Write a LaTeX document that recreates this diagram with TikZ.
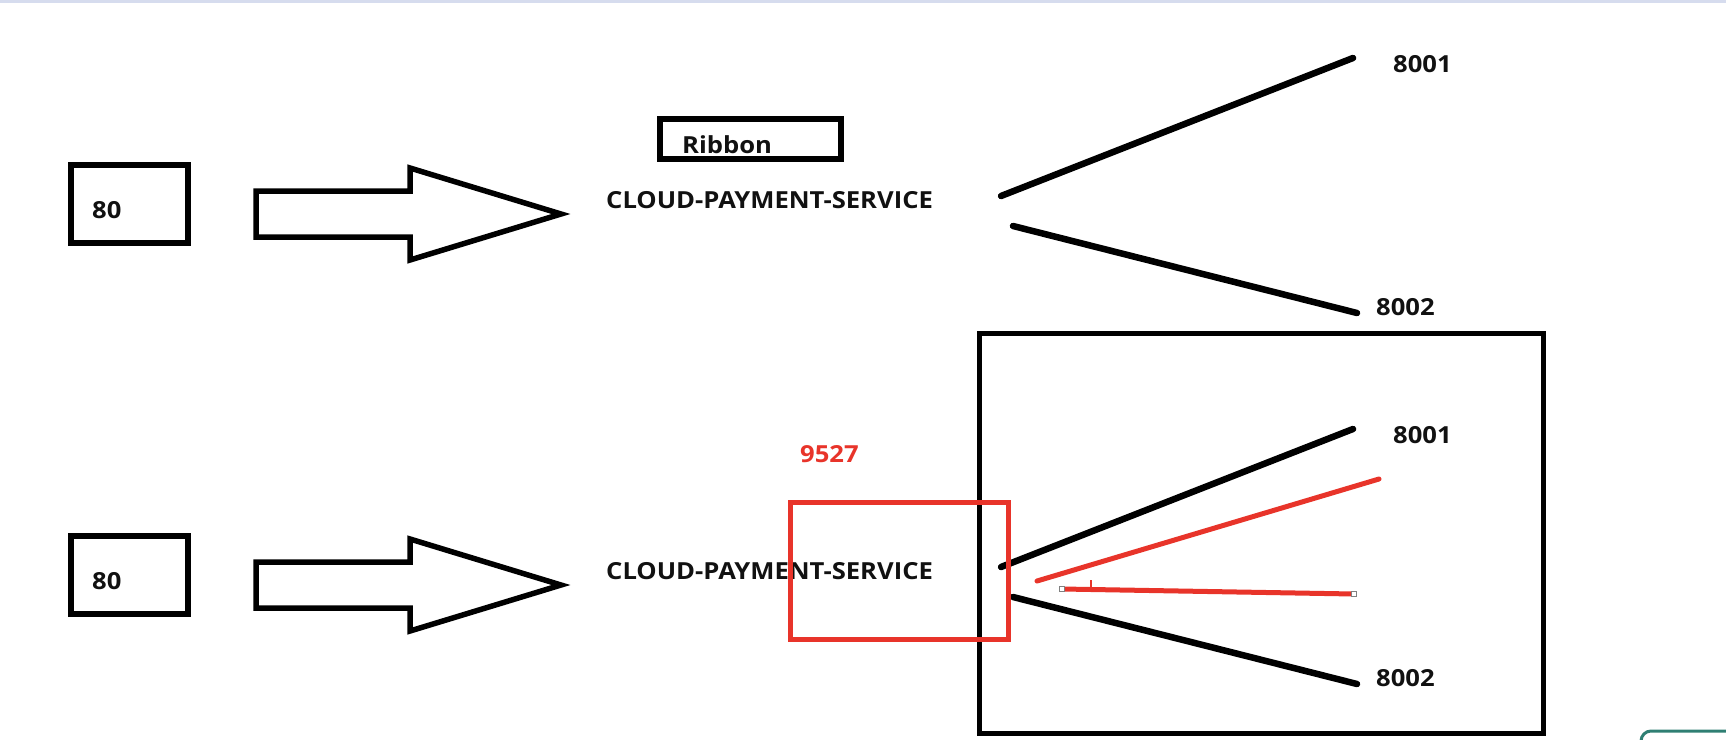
\documentclass[tikz,border=0pt]{standalone}
\usepackage{fontspec}
\setmainfont{Open Sans}
\usetikzlibrary{calc}
\definecolor{redline}{RGB}{232,52,42}
\definecolor{topline}{RGB}{214,220,238}
\definecolor{tealline}{RGB}{47,127,115}
\newcommand\widetxt[1]{\scalebox{1.09}[1]{#1}}
\tikzset{
  lbl/.style={font=\fontsize{23.5}{23.5}\selectfont\bfseries, inner sep=0pt, anchor=base west, text={rgb,255:red,17;green,17;blue,17}},
  redlbl/.style={lbl, text=redline},
  boxline/.style={draw=black, line width=6.5pt},
  thinbox/.style={draw=black, line width=5.5pt},
  arrowshape/.style={draw=black, line width=5.5pt, line join=miter, fill=white},
  link/.style={draw=black, line width=6.5pt, line cap=round},
  redlink/.style={draw=redline, line width=5pt, line cap=round},
  handle/.style={draw=gray, fill=white, line width=0.8pt},
}
\begin{document}
\begin{tikzpicture}[x=1pt, y=-1pt]
\useasboundingbox (0,0) rectangle (1726,739);
\clip (0,0) rectangle (1726,739);
\fill[topline] (0,0) rectangle (1726,2.5);

% ---- upper group ----
\coordinate (bA) at (71,165);
\coordinate (bB) at (188,243);
\draw[boxline] (bA) rectangle (bB);
\node[lbl] (p80) at (92,218) {\widetxt{80}};
\draw[arrowshape] (256,191) -- (410,191) -- (410,168) -- (561,214) -- (410,260) -- (410,237) -- (256,237) -- cycle;
\coordinate (rA) at (660,119);
\coordinate (rB) at (841,159);
\draw[thinbox] (rA) rectangle (rB);
\node[lbl] (ribbon) at (682,153) {\widetxt{Ribbon}};
\node[lbl] (svc) at (606,208) {\widetxt{CLOUD-PAYMENT-SERVICE}};
\coordinate (s1) at (1001,196);
\coordinate (e1) at (1353,58);
\coordinate (s2) at (1013,226);
\coordinate (e2) at (1357,313);
\draw[link] (s1) -- (e1);
\draw[link] (s2) -- (e2);
\node[lbl] (p8001) at (1393,72) {\widetxt{8001}};
\node[lbl] (p8002) at (1376,315) {\widetxt{8002}};

% ---- lower group ----
\begin{scope}[shift={(0,371)}, name prefix=b-]
\coordinate (bA) at (71,165);
\coordinate (bB) at (188,243);
\draw[boxline] (bA) rectangle (bB);
\node[lbl] (p80) at (92,218) {\widetxt{80}};
\draw[arrowshape] (256,191) -- (410,191) -- (410,168) -- (561,214) -- (410,260) -- (410,237) -- (256,237) -- cycle;
\node[lbl] (svc) at (606,208) {\widetxt{CLOUD-PAYMENT-SERVICE}};
\coordinate (s1) at (1001,196);
\coordinate (e1) at (1353,58);
\coordinate (s2) at (1013,226);
\coordinate (e2) at (1357,313);
\draw[link] (s1) -- (e1);
\draw[link] (s2) -- (e2);
\node[lbl] (p8001) at (1393,72) {\widetxt{8001}};
\node[lbl] (p8002) at (1376,315) {\widetxt{8002}};
\end{scope}

% big frame
\coordinate (fA) at (979.5,333.5);
\coordinate (fB) at (1543.5,733.5);
\draw[thinbox] (fA) rectangle (fB);

% red highlight
\node[redlbl] (g9527) at (800,462) {\widetxt{9527}};
\coordinate (gA) at (790,502);
\coordinate (gB) at (1008,639);
\draw[draw=redline, line width=5pt] (gA) rectangle (gB);
\coordinate (r1s) at (1037,581);
\coordinate (r1e) at (1379,479);
\draw[redlink] (r1s) -- (r1e);
\coordinate (r2s) at (1062,589);
\coordinate (r2e) at (1354,594);
\draw[draw=redline, line width=5pt] (r2s) -- (r2e);
\coordinate (tk1) at (1091,580);
\coordinate (tk2) at (1091,589);
\draw[draw=redline, line width=2.5pt] (tk1) -- (tk2);
\draw[handle] ($(r2s)+(-2.5,-2.5)$) rectangle ($(r2s)+(2.5,2.5)$);
\draw[handle] ($(r2e)+(-2.5,-2.5)$) rectangle ($(r2e)+(2.5,2.5)$);

% teal corner at bottom right
\coordinate (tc1) at (1641,745);
\coordinate (tc2) at (1740,731);
\draw[draw=tealline, line width=3pt, rounded corners=10pt] (tc1) |- (tc2);
\end{tikzpicture}
\end{document}
